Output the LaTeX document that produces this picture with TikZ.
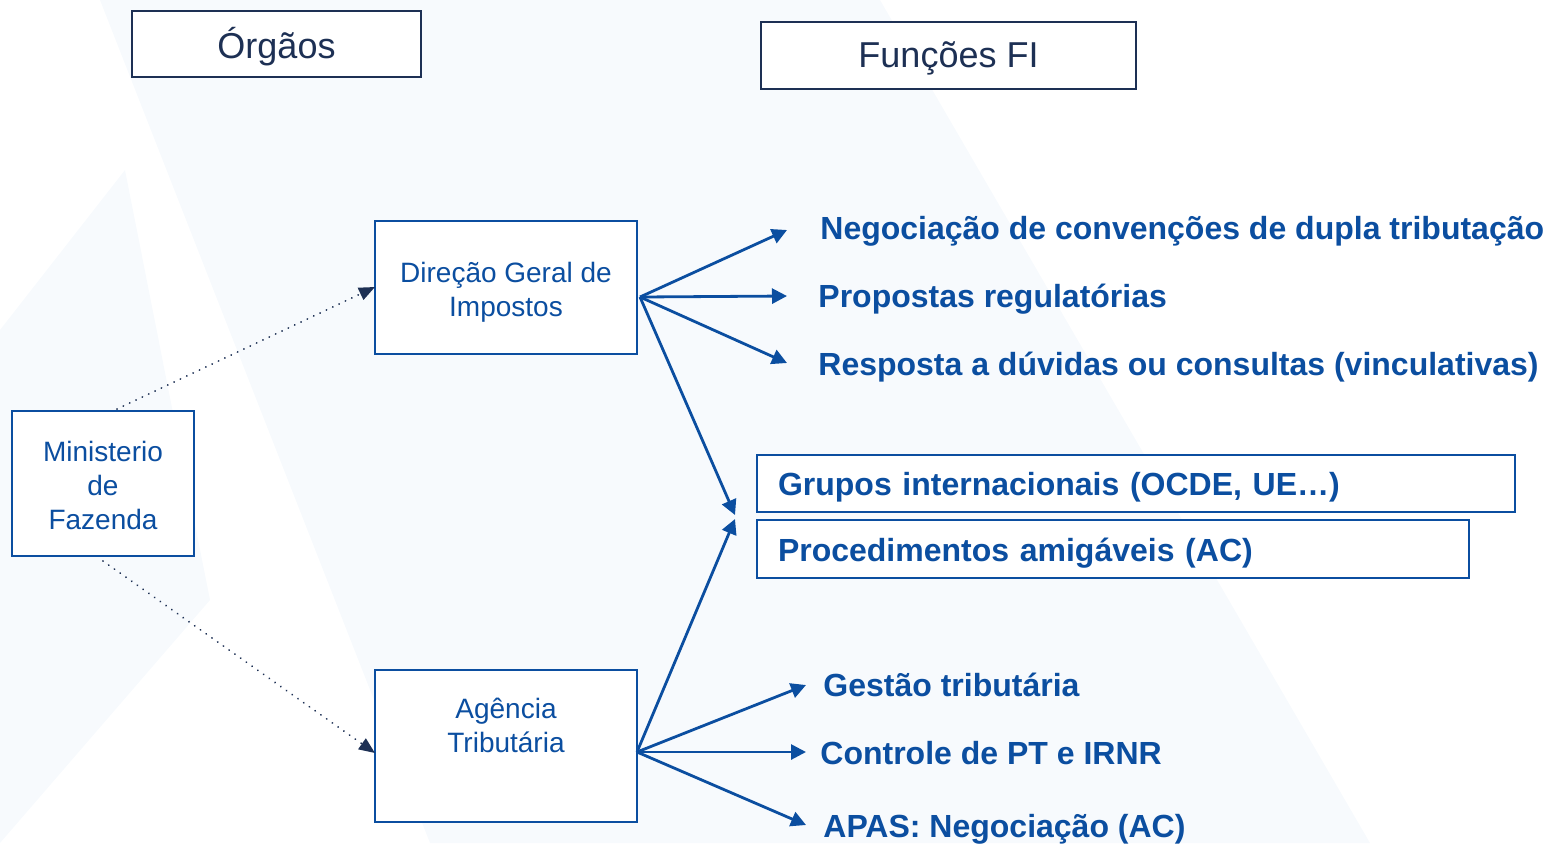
\documentclass[tikz,border=0pt]{standalone}
\usepackage{fontspec}
\setmainfont{Liberation Sans}
\usepackage{xcolor}
\usetikzlibrary{
    arrows.meta,
    positioning
}
\definecolor{fiblue}{RGB}{11,78,160}
\definecolor{finavy}{RGB}{29,48,84}
\definecolor{fitint}{RGB}{247,250,253}

\begin{document}
\begin{tikzpicture}[x=0.5pt, y=-0.5pt,
    box/.style={draw=fiblue, line width=1pt, fill=white, text=fiblue, align=center,
        font=\fontsize{14}{17}\selectfont},
    headbox/.style={draw=finavy, line width=1pt, fill=white, text=finavy, text depth=1pt,
        font=\fontsize{18}{21}\selectfont},
    listbox/.style={draw=fiblue, line width=1pt, fill=white, text=fiblue, anchor=west,
        align=left, inner xsep=10.5pt, text height=14pt, text depth=1.7pt,
        font=\bfseries\fontsize{16}{19}\selectfont},
    func/.style={anchor=west, inner sep=0pt, text=fiblue, font=\bfseries\fontsize{16}{19}\selectfont},
    link/.style={draw=fiblue, line width=1.4pt, -{Triangle[length=7.5pt, width=7.5pt]}},
    dots/.style={draw=finavy, line width=1pt, line cap=round, dash pattern=on 0.01pt off 3.5pt,
        -{Triangle[length=8pt, width=6.5pt]}}]
                    \useasboundingbox (0, 0) rectangle (1546, 843);
                    \fill[fitint] (100, 0) -- (880, 0) -- (1370, 843) -- (430, 843) -- cycle;
                    \fill[fitint] (0, 330) -- (125, 170) -- (210, 600) -- (0, 843) -- cycle;
                    \node[headbox, minimum width=144.5pt, minimum height=33pt] (org) at (276.5, 44) {Órgãos};
                    \node[headbox, minimum width=187.5pt, minimum height=33.5pt] (fun) at (948.5, 55.5) {Funções FI};
                    \node[box, minimum width=91pt, minimum height=72.5pt] (mf) at (103, 483.5) {};
                    \node[box, draw=none, fill=none] (mflab) at (103, 485) {Ministerio\\de\\Fazenda};
                    \node[box, minimum width=131pt, minimum height=66.5pt] (dgi) at (506, 287.5) {};
                    \node[box, draw=none, fill=none] (dgilab) at (506, 292) {Direção Geral de\\Impostos};
                    \node[box, minimum width=131pt, minimum height=76pt] (agt) at (506, 746) {};
                    \node[box, draw=none, fill=none] (agtlab) at (506, 725) {Agência\\Tributária};
                    \node[listbox, text width=358pt, minimum height=28.5pt] (grp) at (756, 483.5) {Grupos internacionais (OCDE, UE…)};
                    \node[listbox, text width=335pt, minimum height=29pt] (proc) at (756, 549) {Procedimentos amigáveis (AC)};
                    \node[func] (neg) at (820, 231) {Negociação de convenções de dupla tributação};
                    \node[func] (prop) at (818, 299) {Propostas regulatórias};
                    \node[func] (resp) at (818, 367) {Resposta a dúvidas ou consultas (vinculativas)};
                    \node[func] (gest) at (823, 685) {Gestão tributária};
                    \node[func] (ctrl) at (820, 753) {Controle de PT e IRNR};
                    \node[func] (apas) at (823, 829) {APAS: Negociação (AC)};
                    % arrow ends
                    \coordinate (dgiout) at (640, 297);
                    \coordinate (agtout) at (637, 752);
                    \coordinate (tneg) at (787, 230);
                    \coordinate (tprop) at (787, 296);
                    \coordinate (tresp) at (787, 363);
                    \coordinate (tgrp) at (735, 515);
                    \coordinate (tproc) at (735, 519);
                    \coordinate (tgest) at (806, 685);
                    \coordinate (tctrl) at (806, 752);
                    \coordinate (tapas) at (806, 825);
                    \coordinate (mfup) at (117, 409);
                    \coordinate (mfdown) at (103, 561);
                    \coordinate (dgiin) at (375, 287);
                    \coordinate (agtin) at (375, 753);
                    \draw
                    (mfup) edge[dots] (dgiin)
                    (mfdown) edge[dots] (agtin)
                    (dgiout) edge[link] (tneg)
                    (dgiout) edge[link] (tprop)
                    (dgiout) edge[link] (tresp)
                    (dgiout) edge[link] (tgrp)
                    (agtout) edge[link] (tproc)
                    (agtout) edge[link] (tgest)
                    (agtout) edge[link] (tctrl)
                    (agtout) edge[link] (tapas);
                \end{tikzpicture}
\end{document}
